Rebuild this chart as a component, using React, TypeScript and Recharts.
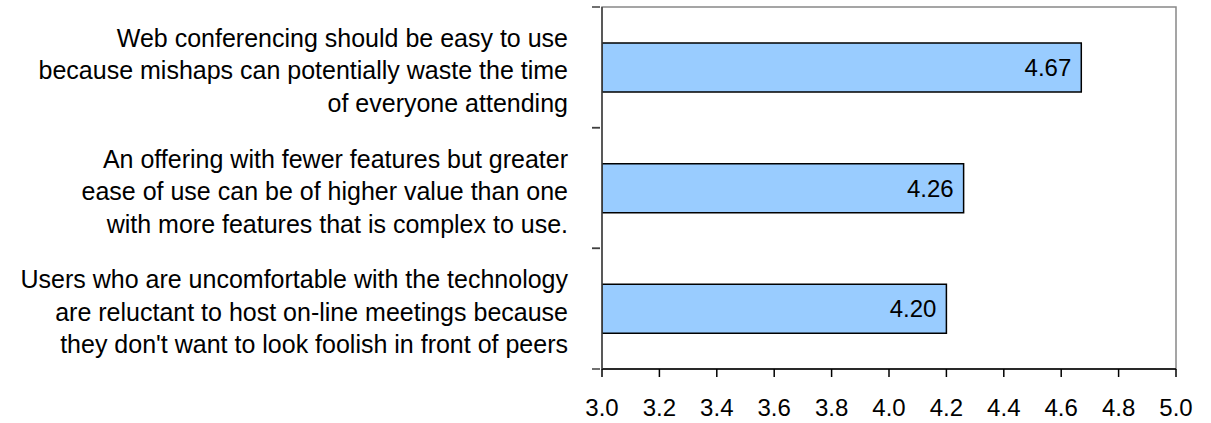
import React from "react";
import { BarChart, Bar, XAxis, YAxis, LabelList, ReferenceArea } from "recharts";

const categories = [
  "Web conferencing should be easy to use because mishaps can potentially waste the time of everyone attending",
  "An offering with fewer features but greater ease of use can be of higher value than one with more features that is complex to use.",
  "Users who are uncomfortable with the technology are reluctant to host on-line meetings because they don't want to look foolish in front of peers",
];
const categoryLines = [
  ["Web conferencing should be easy to use", "because mishaps can potentially waste the time", "of everyone attending"],
  ["An offering with fewer features but greater", "ease of use can be of higher value than one", "with more features that is complex to use."],
  ["Users who are uncomfortable with the technology", "are reluctant to host on-line meetings because", "they don't want to look foolish in front of peers"],
];
const values = [4.67, 4.26, 4.2];
const valueTicks = [3.0, 3.2, 3.4, 3.6, 3.8, 4.0, 4.2, 4.4, 4.6, 4.8, 5.0];

const data = categories.map((name, i) => ({ name, value: values[i], lines: categoryLines[i] }));

const FONT = "'Liberation Sans', Arial, sans-serif";

const CategoryTick = (props: any) => {
  const { x, y, payload, index } = props;
  const lines = categoryLines[index] || [payload.value];
  const half = payload.offset || 0;
  const lineH = 32.5;
  const startY = y - ((lines.length - 1) * lineH) / 2 + 3;
  return (
    <g>
      <line x1={x} x2={x + 8} y1={y - half} y2={y - half} stroke="#404040" strokeWidth={1.5} />
      <line x1={x} x2={x + 8} y1={y + half} y2={y + half} stroke="#404040" strokeWidth={1.5} />
      <text textAnchor="end" fontFamily={FONT} fontSize={25} fill="#000">
        {lines.map((l: string, i: number) => (
          <tspan key={i} x={x - 24} y={startY + i * lineH} dominantBaseline="central">
            {l}
          </tspan>
        ))}
      </text>
    </g>
  );
};

export default function App() {
  return (
    <div style={{ position: "absolute", left: 0, top: 0, background: "#fff" }}>
      <BarChart
        width={1211}
        height={423}
        data={data}
        layout="vertical"
        margin={{ top: 7, right: 35, bottom: 0, left: 0 }}
        barCategoryGap="30%"
      >
        <ReferenceArea x1={3} x2={5} fill="none" stroke="#888" strokeWidth={1.5} ifOverflow="visible" />
        <XAxis
          type="number"
          domain={[3, 5]}
          ticks={valueTicks}
          tickFormatter={(v: number) => v.toFixed(1)}
          allowDataOverflow
          height={54}
          axisLine={{ stroke: "#000", strokeWidth: 1.5 }}
          tickLine={{ stroke: "#000", strokeWidth: 1.5 }}
          tickSize={8}
          tickMargin={22}
          tick={{ fontFamily: FONT, fontSize: 24, fill: "#000" }}
        />
        <YAxis
          type="category"
          dataKey="name"
          width={602}
          axisLine={{ stroke: "#404040", strokeWidth: 1.5 }}
          tickLine={false}
          tickSize={8}
          tick={<CategoryTick />}
          interval={0}
        />
        <Bar dataKey="value" fill="#99CCFF" stroke="#000" strokeWidth={1.5} barSize={49} isAnimationActive={false}>
          <LabelList
            dataKey="value"
            position="insideRight"
            offset={10}
            formatter={(v: number) => v.toFixed(2)}
            style={{ fontFamily: FONT, fontSize: 24, fill: "#000" }}
          />
        </Bar>
      </BarChart>
    </div>
  );
}
